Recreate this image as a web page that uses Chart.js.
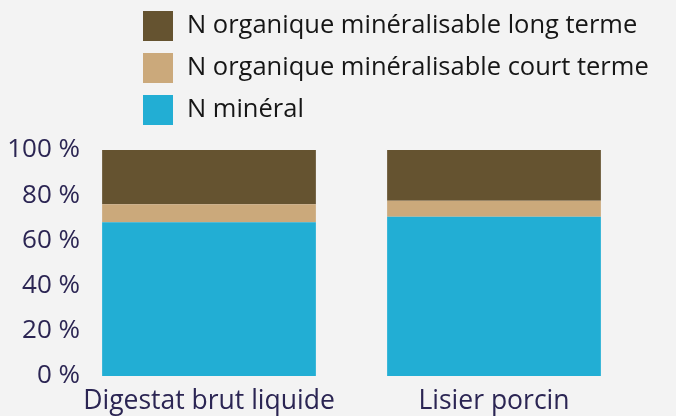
<!DOCTYPE html>
<html>
<head>
<meta charset="utf-8">
<script src="https://cdn.jsdelivr.net/npm/chart.js@4"></script>
<style>
  html, body { margin: 0; padding: 0; background: #f3f3f3; }
  #wrap { width: 676px; height: 416px; position: relative; }
</style>
</head>
<body>
<div id="wrap"><canvas id="c" width="676" height="416"></canvas></div>
<script>
const categories = ["Digestat brut liquide", "Lisier porcin"];
const seriesNames = ["N minéral", "N organique minéralisable court terme", "N organique minéralisable long terme"];
const nMineral = [68, 70.5];
const nCourtTerme = [8, 7];
const nLongTerme = [24, 22.5];
const yTickValues = [0, 20, 40, 60, 80, 100];
const colors = ["#22aed4", "#cba97b", "#655330"];

const FONT = "'Open Sans', 'Noto Sans', sans-serif";
const Y_FONT_SIZE = 26;
const X_FONT_SIZE = 26.5;
const LEGEND_FONT_SIZE = 25.5;

// measure widest y label so the mirrored labels end at the right spot
const mctx = document.createElement('canvas').getContext('2d');
mctx.font = Y_FONT_SIZE + "px " + FONT;
const widestY = Math.max(...yTickValues.map(v => mctx.measureText(v + ' %').width));
const Y_AXIS_WIDTH = 66.5;
const Y_LABEL_RIGHT = 80;

const legendPlugin = {
  id: 'customLegend',
  afterDraw(chart) {
    const ctx = chart.ctx;
    const ds = chart.data.datasets.slice().reverse();
    ctx.save();
    ctx.font = LEGEND_FONT_SIZE + "px " + FONT;
    ctx.textBaseline = 'middle';
    ctx.textAlign = 'left';
    ds.forEach((d, i) => {
      const top = 11 + i * 42;
      ctx.fillStyle = d.backgroundColor;
      ctx.fillRect(143, top, 30, 30);
      ctx.fillStyle = '#161616';
      ctx.fillText(d.label, 187, top + 15);
    });
    ctx.restore();
  }
};

new Chart(document.getElementById('c'), {
  type: 'bar',
  data: {
    labels: categories,
    datasets: [
      { label: seriesNames[0], data: nMineral, backgroundColor: colors[0] },
      { label: seriesNames[1], data: nCourtTerme, backgroundColor: colors[1] },
      { label: seriesNames[2], data: nLongTerme, backgroundColor: colors[2] }
    ]
  },
  options: {
    responsive: false,
    animation: false,
    layout: { padding: { top: 150, right: 39.5, left: 0, bottom: 0 } },
    datasets: { bar: { barPercentage: 0.75, categoryPercentage: 1, borderWidth: 0 } },
    plugins: { legend: { display: false }, tooltip: { enabled: false } },
    scales: {
      x: {
        stacked: true,
        grid: { display: false },
        border: { display: false },
        ticks: { color: '#2b2553', font: { family: FONT, size: X_FONT_SIZE }, padding: 2, maxRotation: 0 },
        afterFit(s) { s.height = 40; }
      },
      y: {
        stacked: true,
        min: 0, max: 100,
        grid: { display: false },
        border: { display: false },
        afterBuildTicks(s) { s.ticks = yTickValues.map(v => ({ value: v })); },
        ticks: {
          color: '#2b2553', font: { family: FONT, size: Y_FONT_SIZE },
          mirror: true, crossAlign: 'far',
          padding: Y_LABEL_RIGHT - Y_AXIS_WIDTH - widestY,
          callback: v => v + ' %'
        },
        afterFit(s) { s.width = Y_AXIS_WIDTH; }
      }
    }
  },
  plugins: [legendPlugin]
});
</script>
</body>
</html>
